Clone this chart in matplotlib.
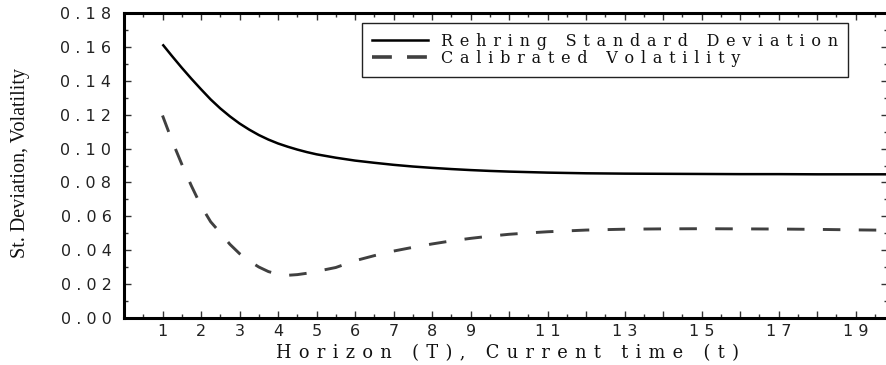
import matplotlib
matplotlib.use("Agg")
import matplotlib.pyplot as plt
from matplotlib.ticker import MultipleLocator, FixedLocator, FuncFormatter
from matplotlib.lines import Line2D

# horizon grid and the two curves
horizon = [1, 1.25, 1.5, 1.75, 2, 2.25, 2.5, 2.75, 3, 3.25, 3.5, 3.75, 4,
           4.25, 4.5, 4.75, 5, 5.5, 6, 6.5, 7, 7.5, 8, 8.5, 9, 9.5, 10, 10.5,
           11, 11.5, 12, 13, 14, 15, 16, 17, 18, 19, 19.84]
rehring_sd = [0.1615, 0.1545, 0.1477, 0.1412, 0.1350, 0.1290, 0.1237,
              0.1190, 0.1148, 0.1112, 0.1080, 0.1053, 0.1030, 0.1011, 0.0994,
              0.0979, 0.0966, 0.0946, 0.0929, 0.0916, 0.0904, 0.0894, 0.0886,
              0.0879, 0.0873, 0.0868, 0.0864, 0.0861, 0.0858, 0.0856, 0.0854,
              0.0852, 0.0851, 0.0850, 0.0849, 0.0849, 0.0848, 0.0848, 0.0848]
calib_vol = [0.1195, 0.1045, 0.0908, 0.0780, 0.0662, 0.0568, 0.0503, 0.0435,
             0.0380, 0.0337, 0.0301, 0.0274, 0.0258, 0.0252, 0.0256, 0.0264,
             0.0275, 0.0298, 0.0338, 0.0368, 0.0395, 0.0417, 0.0437, 0.0455,
             0.0470, 0.0483, 0.0494, 0.0502, 0.0509, 0.0514, 0.0519, 0.0524,
             0.0526, 0.0527, 0.0526, 0.0525, 0.0523, 0.0520, 0.0518]

x_labelled = [1, 2, 3, 4, 5, 6, 7, 8, 9, 11, 13, 15, 17, 19]
series_names = ["Rehring Standard Deviation", "Calibrated Volatility"]

SERIF = ["DejaVu Serif", "DejaVu Sans"]
WIDE = " \u200a"


def spaced(s, sep=" "):
    return sep.join(s)


W, H = 886, 365
fig = plt.figure(figsize=(W / 100, H / 100), dpi=100)
ax = fig.add_axes([124 / W, (H - 318) / H, 764 / W, 305 / H])

ax.plot(horizon, rehring_sd, color="black", lw=1.8, solid_capstyle="butt")
ax.plot(horizon, calib_vol, color="#404040", lw=2.1, dashes=(6, 6.3),
        dash_capstyle="butt")

ax.set_xlim(0, 19.84)
ax.set_ylim(0, 0.18)

for sp in ax.spines.values():
    sp.set_linewidth(2.2)

ax.xaxis.set_major_locator(FixedLocator(range(1, 20)))
ax.xaxis.set_minor_locator(MultipleLocator(0.5))
ax.yaxis.set_major_locator(MultipleLocator(0.02))
ax.yaxis.set_minor_locator(MultipleLocator(0.01))

ax.xaxis.set_major_formatter(FuncFormatter(
    lambda v, p: spaced(str(int(round(v)))) if int(round(v)) in x_labelled else ""))
ax.yaxis.set_major_formatter(FuncFormatter(lambda v, p: spaced(f"{v:.2f}")))

ax.tick_params(which="both", direction="in", top=True, right=True,
               width=1, color="#333333")
ax.tick_params(which="major", length=5)
ax.tick_params(which="minor", length=3)
ax.tick_params(axis="y", pad=9)
ax.tick_params(axis="x", pad=4)
for lab in ax.get_xticklabels() + ax.get_yticklabels():
    lab.set_family(["DejaVu Sans"])
    lab.set_fontsize(11.5)
    lab.set_color("#222222")

fig.text(507 / W, 1 - 353 / H, spaced("Horizon (T), Current time (t)", WIDE),
         ha="center", va="center", fontsize=12.8, color="#111111",
         family=SERIF)
fig.text(21 / W, 1 - 163 / H, "St. Deviation, Volatility", rotation=90,
         ha="center", va="center", fontsize=14.5, color="#111111",
         family=["Liberation Serif"])

handles = [Line2D([], [], color="black", lw=1.8),
           Line2D([], [], color="#404040", lw=2.6, dashes=(5.5, 4.2))]
leg = ax.legend(handles, [spaced(n, WIDE) for n in series_names],
                loc="upper left", bbox_to_anchor=(0.3115, 0.967),
                borderaxespad=0, fancybox=False, framealpha=1,
                edgecolor="#222222", borderpad=0.62, handlelength=3.5,
                handletextpad=0.85, labelspacing=0.0,
                prop={"family": SERIF, "size": 11.5})
leg.get_frame().set_linewidth(1.0)
for t in leg.get_texts():
    t.set_color("#111111")

fig.savefig("out.png", dpi=100)
